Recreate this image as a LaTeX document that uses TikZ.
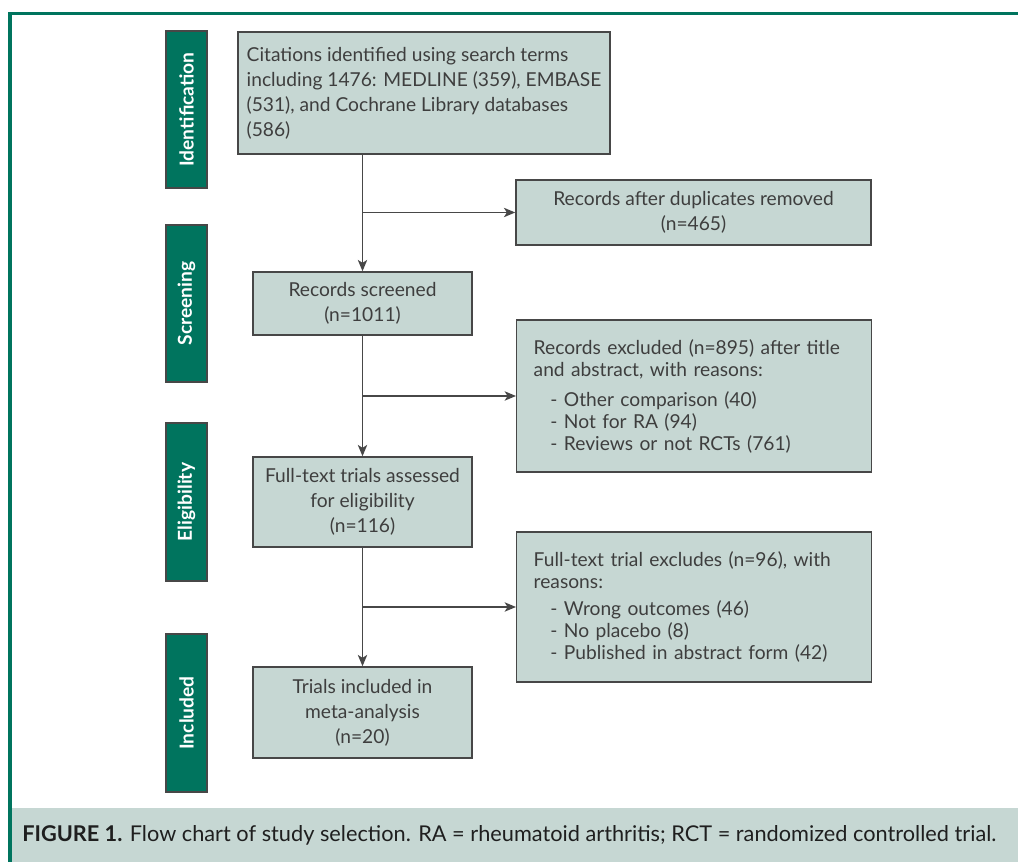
\documentclass[tikz,border=0pt]{standalone}
\usepackage{fontspec}
\setmainfont{Lato}
\usetikzlibrary{arrows.meta}
\definecolor{dkgreen}{HTML}{00745E}
\definecolor{boxfill}{HTML}{C6D7D3}
\definecolor{txtgray}{HTML}{3E3E3E}
\definecolor{edgegray}{HTML}{474747}
\begin{document}
\begin{tikzpicture}[x=0.75pt,y=-0.75pt,
  stage/.style={draw=edgegray, line width=0.9pt, fill=dkgreen, text=white, rotate=90,
    font=\fontsize{14.4}{16}\selectfont\bfseries, inner sep=0pt, minimum height=41*0.75pt},
  flowbox/.style={draw=edgegray, line width=1.1pt, fill=boxfill, text=txtgray, inner sep=0pt,
    font=\fontsize{14.4}{18.75}\selectfont},
  listbox/.style={flowbox, font=\fontsize{14.4}{16.5}\selectfont, align=left, anchor=west,
    inner xsep=17*0.75pt},
  conn/.style={draw=edgegray, line width=1.2pt},
  arr/.style={conn, -{Stealth[length=8.5pt,width=7pt,inset=2.2pt]}}
]
\useasboundingbox (0,0) rectangle (1018,862);
\fill[white] (0,0) rectangle (1018,862);
\fill[boxfill] (10,808) rectangle (1018,862);
\draw[dkgreen, line width=2.6pt] (10,862) -- (10,13.5) -- (1018,13.5);

% stage labels
\node[stage, minimum width=157*0.75pt] (sid) at (186.5,109.5) {Identification};
\node[stage, minimum width=157*0.75pt] (ssc) at (186.5,303.5) {Screening};
\node[stage, minimum width=158*0.75pt] (sel) at (186.5,502) {Eligibility};
\node[stage, minimum width=158*0.75pt] (sin) at (186.5,713) {Included};

% main boxes
\node[flowbox, align=left, minimum width=372*0.75pt, minimum height=122*0.75pt] (cit) at (424,93)
  {Citations identified using search terms\\including 1476: MEDLINE (359), EMBASE\\(531), and Cochrane Library databases\\(586)};
\node[flowbox, align=center, minimum width=355*0.75pt, minimum height=65*0.75pt] (dup) at (693.5,212.5)
  {Records after duplicates removed\\(n=465)};
\node[flowbox, align=center, minimum width=219*0.75pt, minimum height=63*0.75pt] (scr) at (362.5,303.5)
  {Records screened\\(n=1011)};
\node[listbox, text width=321*0.75pt, minimum height=152*0.75pt] (exc) at (516,396)
  {Records excluded (n=895) after title\\and abstract, with reasons:\\[6pt]
   \hspace*{12.5pt}- Other comparison (40)\\\hspace*{12.5pt}- Not for RA (94)\\\hspace*{12.5pt}- Reviews or not RCTs (761)};
\node[flowbox, align=center, minimum width=219*0.75pt, minimum height=90*0.75pt] (ft) at (362.5,502)
  {Full-text trials assessed\\for eligibility\\(n=116)};
\node[listbox, text width=321*0.75pt, minimum height=150*0.75pt] (ftx) at (516,607)
  {Full-text trial excludes (n=96), with\\reasons:\\[4pt]
   \hspace*{12.5pt}- Wrong outcomes (46)\\\hspace*{12.5pt}- No placebo (8)\\\hspace*{12.5pt}- Published in abstract form (42)};
\node[flowbox, align=center, minimum width=219*0.75pt, minimum height=91*0.75pt] (inc) at (362.5,712.5)
  {Trials included in\\meta-analysis\\(n=20)};

% connectors
\draw[arr] (scr.north |- cit.south) -- (scr.north);
\draw[arr] (dup.west -| scr.north) -- (dup.west);
\draw[arr] (scr.south) -- (ft.north);
\draw[arr] (exc.west -| scr.south) -- (exc.west);
\draw[arr] (ft.south) -- (inc.north);
\draw[arr] (ftx.west -| ft.south) -- (ftx.west);

% caption
\node[anchor=west, text=black!88, font=\fontsize{16.3}{18}\selectfont, inner sep=0pt] (cap) at (22,835)
  {\textbf{FIGURE 1.} Flow chart of study selection. RA = rheumatoid arthritis; RCT = randomized controlled trial.};
\end{tikzpicture}
\end{document}
